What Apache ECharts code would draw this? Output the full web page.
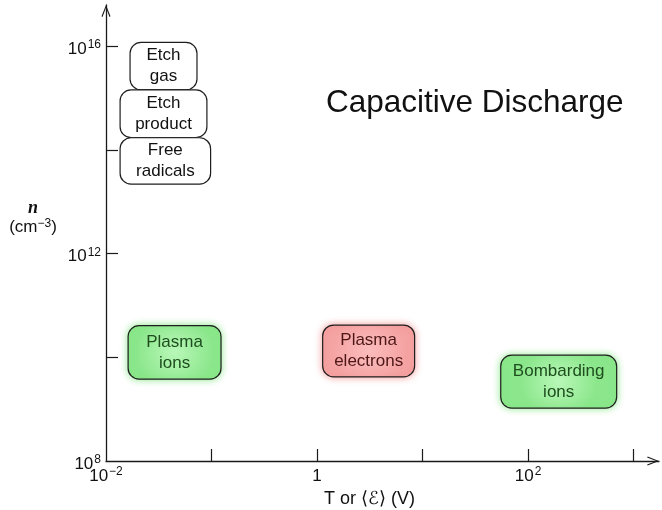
<!DOCTYPE html>
<html>
<head>
<meta charset="utf-8">
<style>html,body{margin:0;padding:0;background:#fff;}#c{width:662px;height:510px;}</style>
<script src="https://cdn.jsdelivr.net/npm/echarts@6/dist/echarts.min.js"></script>
</head>
<body>
<div id="c"></div>
<script>
// ---- data ----
const boxLabels = ['Etch\ngas', 'Etch\nproduct', 'Free\nradicals', 'Plasma\nions', 'Plasma\nelectrons', 'Bombarding\nions'];
const boxKinds  = ['neutral', 'neutral', 'neutral', 'ion', 'electron', 'ion'];
const tLow  = [0.0169, 0.0136, 0.0136, 0.0162, 1.13, 55];     // T or <E> (V), left edge
const tHigh = [0.0728, 0.0904, 0.098, 0.123, 8.4, 690];       // right edge
const nLow  = [1.45e15, 1.74e14, 2.2e13, 3.8e9, 4.2e9, 1.05e9]; // n (cm^-3), bottom edge
const nHigh = [1.2e16, 1.45e15, 1.73e14, 4.1e10, 4.2e10, 1.1e10]; // top edge
const xTickExps  = [-1, 0, 1, 2, 3];
const xLabelExps = [-2, 0, 2];
const yTickExps  = [10, 12, 14, 16];
const yLabelExps = [8, 12, 16];
const xRange = [-2, 3.24];
const yRange = [8, 16.8];

const lg = Math.log10;
const boxData = boxLabels.map((_, i) => [lg(tLow[i]), lg(tHigh[i]), lg(nLow[i]), lg(nHigh[i])]);

const kindStyle = {
  neutral:  { fill: '#ffffff', text: '#111111', blur: 0, glow: 'rgba(0,0,0,0)' },
  ion:      { fill: { type: 'radial', x: 0.5, y: 0.5, r: 0.7, colorStops: [{ offset: 0, color: '#b8f7b8' }, { offset: 1, color: '#8ce78c' }] },
              text: '#1e4d1e', blur: 7, glow: 'rgba(110,225,110,0.75)' },
  electron: { fill: { type: 'radial', x: 0.5, y: 0.5, r: 0.7, colorStops: [{ offset: 0, color: '#fbbcbc' }, { offset: 1, color: '#f5a3a3' }] },
              text: '#4d1717', blur: 7, glow: 'rgba(240,120,120,0.7)' }
};

const FONT = '"Liberation Sans", Arial, Helvetica, sans-serif';
const powLabel = (e) => e === 0 ? '{b|1}' : '{b|10}{s|' + String(e).replace('-', '\u2212') + '}';
const richPow = {
  b: { fontSize: 17, lineHeight: 17, fontFamily: FONT, color: '#111', verticalAlign: 'bottom' },
  s: { fontSize: 12, lineHeight: 12, fontFamily: FONT, color: '#111', verticalAlign: 'bottom', padding: [0, 0, 7, 1] }
};
const axisLineCommon = {
  show: true,
  onZero: false,
  symbol: ['none', 'path://M0,10 L4,0 L8,10 L7.1,10.5 L4,2.4 L0.9,10.5 Z'],
  symbolSize: [9, 12],
  symbolOffset: [0, -6],
  lineStyle: { color: '#1a1a1a', width: 1.3 }
};

const chart = echarts.init(document.getElementById('c'), null, { renderer: 'canvas' });
chart.setOption({
  animation: false,
  backgroundColor: '#ffffff',
  title: {
    text: 'Capacitive Discharge',
    left: 326, top: 87, padding: 0,
    textStyle: { fontSize: 31.5, fontWeight: 'normal', fontFamily: FONT, color: '#111' }
  },
  grid: { left: 106, right: 3, top: 5, bottom: 49, containLabel: false, outerBoundsMode: 'none' },
  xAxis: {
    type: 'value', min: xRange[0], max: xRange[1],
    axisLine: axisLineCommon,
    splitLine: { show: false },
    axisTick: { show: true, inside: true, length: 12, customValues: xTickExps, lineStyle: { color: '#1a1a1a', width: 1.2 } },
    axisLabel: { show: true, customValues: xLabelExps, margin: 7, formatter: powLabel, rich: richPow },
    name: 'T or \u27E8\u2130\u27E9 (V)',
    nameLocation: 'middle', nameGap: 27,
    nameTextStyle: { fontSize: 18, fontFamily: FONT, color: '#111', padding: [0, 26, 0, 0] }
  },
  yAxis: {
    type: 'value', min: yRange[0], max: yRange[1],
    axisLine: axisLineCommon,
    splitLine: { show: false },
    axisTick: { show: true, inside: true, length: 12, customValues: yTickExps, lineStyle: { color: '#1a1a1a', width: 1.2 } },
    axisLabel: { show: true, customValues: yLabelExps, margin: 5, formatter: powLabel, rich: richPow, padding: [6, 0, 0, 0] },
    name: '{n|n}\n{u|(cm}{us|\u22123}{u|)}',
    nameLocation: 'middle', nameGap: 73, nameRotate: 0,
    nameTextStyle: {
      align: 'center', padding: [0, 0, 30, 0],
      rich: {
        n: { fontSize: 18, fontStyle: 'italic', fontWeight: 'bold', fontFamily: '"Liberation Serif", "DejaVu Serif", serif', color: '#111', lineHeight: 17, align: 'center' },
        u: { fontSize: 17, fontFamily: FONT, color: '#111', lineHeight: 19, verticalAlign: 'bottom' },
        us: { fontSize: 12, fontFamily: FONT, color: '#111', lineHeight: 12, verticalAlign: 'bottom', padding: [0, 0, 6, 0] }
      }
    }
  },
  series: [{
    type: 'custom',
    clip: false,
    data: boxData,
    renderItem: function (params, api) {
      const i = params.dataIndex;
      const st = kindStyle[boxKinds[i]];
      const p1 = api.coord([api.value(0), api.value(3)]);
      const p2 = api.coord([api.value(1), api.value(2)]);
      return {
        type: 'rect',
        shape: { x: p1[0], y: p1[1], width: p2[0] - p1[0], height: p2[1] - p1[1], r: 11 },
        style: { fill: st.fill, stroke: '#1e1e1e', lineWidth: 1.2, shadowBlur: st.blur, shadowColor: st.glow },
        textContent: {
          style: { text: boxLabels[i], fill: st.text, fontSize: 17, fontFamily: FONT, lineHeight: 21, align: 'center', verticalAlign: 'middle' }
        },
        textConfig: { position: 'inside' }
      };
    }
  }]
});
</script>
</body>
</html>
